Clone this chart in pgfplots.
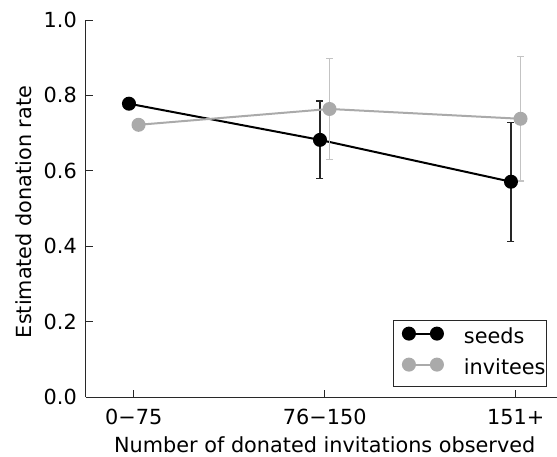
\documentclass[border=0pt]{standalone}
\usepackage{fontspec}
\setmainfont{DejaVu Sans}
\usepackage{pgfplots}
\pgfplotsset{compat=1.18}

\definecolor{invgray}{RGB}{170,170,170}
\definecolor{inverr}{RGB}{195,195,195}
\definecolor{spine}{RGB}{40,40,40}

\begin{document}
\begin{tikzpicture}[font=\fontsize{20.8}{25}\selectfont]
\path[use as bounding box] (-86pt,-59pt) rectangle (471pt,397pt);
\begin{axis}[
    at={(0pt,0pt)}, anchor=south west,
    scale only axis,
    width=477.5pt, height=377pt,
    xmin=-0.25, xmax=2.25,
    ymin=0, ymax=1.0,
    axis x line*=bottom, axis y line*=left,
    axis line style={color=spine, line width=1pt},
    tick align=inside,
    major tick length=7pt,
    tick style={color=spine, line width=1pt},
    xtick={0,1,2},
    xticklabels={0−75, 76−150, 151+},
    ytick={0,0.2,0.4,0.6,0.8,1.0},
    /pgf/number format/fixed,
    /pgf/number format/fixed zerofill,
    /pgf/number format/precision=1,
    /pgf/number format/assume math mode=true,
    yticklabel style={inner sep=0pt, xshift=-9pt},
    xticklabel style={inner sep=0pt, yshift=-12pt},
    xlabel={Number of donated invitations observed},
    ylabel={Estimated donation rate},
    every axis x label/.style={at={(axis description cs:0.5,0)}, anchor=north, inner sep=0pt, yshift=-39pt},
    every axis y label/.style={at={(axis description cs:-0.1131,0.4907)}, rotate=90, anchor=south, inner sep=0pt},
    legend style={at={(rel axis cs:0.9654,0.0265)}, anchor=south east,
        draw=spine, line width=0.8pt, inner xsep=1pt, inner ysep=7pt,
        row sep=10pt, column sep=0pt, cells={anchor=west},
        nodes={inner sep=0pt, text height=15pt, text depth=5pt}},
    legend image code/.code={
        \draw[#1, mark repeat=1] plot coordinates {(0pt,5pt) (28pt,5pt)};
        \path (-14pt,5pt) (54pt,5pt);
    },
    clip=false,
]
% seeds
\addplot+[black, line width=2pt, mark=*, mark size=6pt,
    mark options={solid, fill=black, draw=black},
    error bars/.cd, y dir=both, y explicit,
    error bar style={line width=1.2pt, color=black!85},
    error mark options={rotate=90, mark size=3.5pt, line width=1.2pt, color=black!85}]
coordinates {
    (-0.025,0.778) +- (0,0)
    (0.975,0.682) +- (0,0.103)
    (1.975,0.571) +- (0,0.158)
};
\addlegendentry{seeds}

% invitees
\addplot+[invgray, line width=2pt, mark=*, mark size=6pt,
    mark options={solid, fill=invgray, draw=invgray},
    error bars/.cd, y dir=both, y explicit,
    error bar style={line width=1.2pt, color=inverr},
    error mark options={rotate=90, mark size=3.5pt, line width=1.2pt, color=inverr}]
coordinates {
    (0.025,0.722) +- (0,0)
    (1.025,0.764) +- (0,0.133)
    (2.025,0.738) +- (0,0.165)
};
\addlegendentry{invitees}
\end{axis}
\end{tikzpicture}
\end{document}
